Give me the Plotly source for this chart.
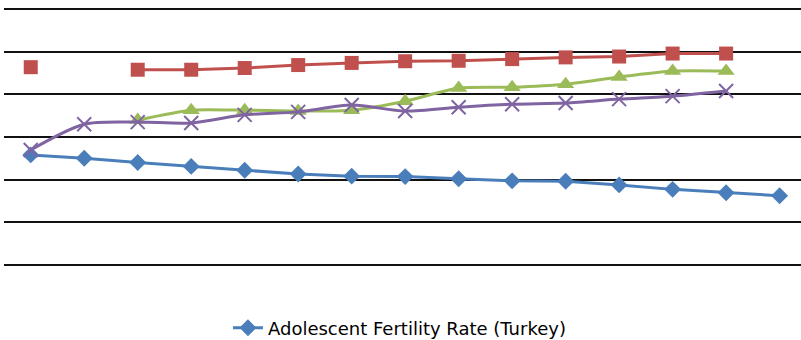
import plotly.graph_objects as go

categories = list(range(15))

blue_vals = [25.8, 25.0, 24.0, 23.1, 22.2, 21.3, 20.8, 20.7, 20.2, 19.7, 19.6, 18.75, 17.7, 16.9, 16.2]
red_vals = [46.4, None, 45.8, 45.8, 46.2, 46.9, 47.4, 47.8, 47.9, 48.3, 48.7, 48.9, 49.6, 49.6]
green_vals = [None, None, 34.0, 36.3, 36.3, 36.1, 36.3, 38.4, 41.5, 41.7, 42.4, 44.1, 45.5, 45.5]
purple_vals = [26.95, 33.0, 33.5, 33.3, 35.2, 35.9, 37.5, 36.1, 37.0, 37.7, 38.0, 38.9, 39.6, 40.8]

legend_name = "Adolescent Fertility Rate (Turkey)"

fig = go.Figure()

fig.add_trace(go.Scatter(
    x=categories, y=blue_vals, mode="lines+markers", name=legend_name,
    line=dict(color="#4A7EBB", width=3),
    marker=dict(symbol="diamond", size=13, color="#4A7EBB"),
))
fig.add_trace(go.Scatter(
    x=categories[:len(red_vals)], y=red_vals, mode="lines+markers", showlegend=False,
    connectgaps=False,
    line=dict(color="#C0504D", width=3),
    marker=dict(symbol="square", size=14, color="#C0504D"),
))
fig.add_trace(go.Scatter(
    x=categories[:len(green_vals)], y=green_vals, mode="lines+markers", showlegend=False,
    line=dict(color="#9BBB59", width=3, shape="spline", smoothing=0.6),
    marker=dict(symbol="triangle-up", size=15, color="#9BBB59"),
))
fig.add_trace(go.Scatter(
    x=categories[:len(purple_vals)], y=purple_vals, mode="lines+markers", showlegend=False,
    line=dict(color="#8064A2", width=3, shape="spline", smoothing=0.8),
    marker=dict(symbol="x-thin-open", size=14, color="#8064A2", line=dict(color="#8064A2", width=2)),
))

fig.update_layout(
    width=801, height=340,
    margin=dict(l=4, r=0, t=8, b=74, autoexpand=False),
    paper_bgcolor="white", plot_bgcolor="white",
    font=dict(family="DejaVu Sans, Arial, sans-serif", size=18, color="#000"),
    showlegend=True,
    legend=dict(orientation="h", x=0.281, xanchor="left", yref="container",
                y=0.035, yanchor="middle", font=dict(size=18)),
    xaxis=dict(range=[-0.5, 14.4], showticklabels=False, showgrid=False, zeroline=False,
               showline=False, ticks=""),
    yaxis=dict(range=[-0.3, 60.3], tickvals=[0, 10, 20, 30, 40, 50, 60],
               showticklabels=False, showgrid=True,
               gridcolor="#111", gridwidth=1.5, zeroline=False, showline=False, ticks=""),
)

fig.write_html("out.html", config={"displayModeBar": False},
               post_script="document.body.style.margin='0';")
